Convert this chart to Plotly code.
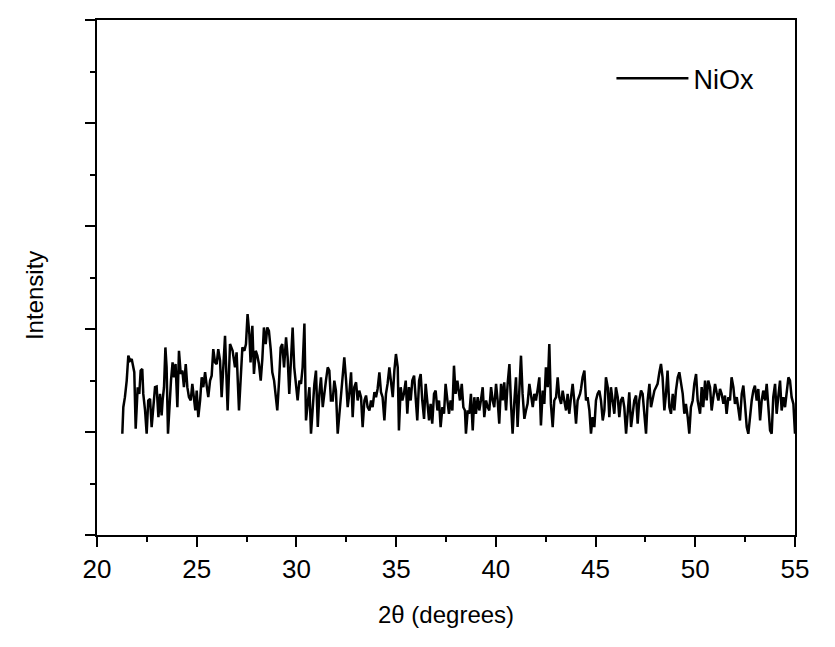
import plotly.graph_objects as go

two_theta = [
    21.27, 21.32, 21.40, 21.49, 21.57, 21.66, 21.74, 21.82, 21.87, 21.94, 22.04, 22.12, 22.19, 22.27, 22.32,
    22.41, 22.49, 22.57, 22.66, 22.74, 22.82, 22.91, 22.99, 23.08, 23.16, 23.24, 23.29, 23.36, 23.43, 23.49,
    23.56, 23.63, 23.71, 23.79, 23.86, 23.94, 24.03, 24.11, 24.20, 24.28, 24.36, 24.45, 24.53, 24.61, 24.70,
    24.78, 24.86, 24.93, 25.00, 25.08, 25.17, 25.25, 25.33, 25.42, 25.50, 25.58, 25.67, 25.75, 25.83, 25.92,
    26.00, 26.08, 26.17,
    26.25, 26.42, 26.55, 26.67, 26.80, 26.92, 27.00, 27.12, 27.22, 27.29, 27.39, 27.47, 27.55, 27.64, 27.70,
    27.79, 27.87, 27.96, 28.04, 28.12, 28.21, 28.29, 28.37, 28.46, 28.54, 28.62, 28.71, 28.79, 28.88, 28.96,
    29.04, 29.13, 29.21, 29.29, 29.38, 29.48, 29.56, 29.64, 29.73, 29.81, 29.89, 29.98, 30.06, 30.15, 30.23,
    30.31, 30.40, 30.48, 30.56, 30.65, 30.73, 30.81, 30.90, 30.98, 31.07, 31.15, 31.23, 31.32, 31.40, 31.48,
    31.57, 31.65, 31.73, 31.82, 31.90, 31.98, 32.07, 32.18,
    32.30, 32.40, 32.49, 32.57, 32.65, 32.74, 32.82, 32.90, 32.99, 33.07, 33.15, 33.24, 33.32, 33.41, 33.49,
    33.57, 33.66, 33.74, 33.82, 33.91, 33.99, 34.07, 34.16, 34.24, 34.32, 34.41, 34.49, 34.57, 34.66, 34.74,
    34.83, 34.91, 34.99, 35.08, 35.14, 35.23, 35.31, 35.39, 35.48, 35.56, 35.64, 35.73, 35.81, 35.90, 35.98,
    36.06, 36.15, 36.23, 36.31, 36.40, 36.48, 36.56, 36.65, 36.73, 36.81, 36.90, 36.98, 37.07, 37.15, 37.23,
    37.32, 37.40, 37.48, 37.57, 37.65, 37.73, 37.82, 37.90, 37.98, 38.07, 38.20,
    38.29, 38.37, 38.45, 38.50, 38.59, 38.67, 38.75, 38.84, 38.92, 39.00, 39.09, 39.17, 39.25, 39.34, 39.42,
    39.51, 39.59, 39.67, 39.76, 39.84, 39.92, 40.01, 40.09, 40.17, 40.26, 40.34, 40.42, 40.51, 40.59, 40.68,
    40.76, 40.84, 40.93, 41.01, 41.09, 41.18, 41.26, 41.34, 41.43, 41.51, 41.59, 41.68, 41.76, 41.85, 41.93,
    42.01, 42.10, 42.18, 42.26, 42.35, 42.43, 42.51, 42.60, 42.68, 42.76, 42.85, 42.93, 43.02, 43.10, 43.18,
    43.27, 43.35, 43.43, 43.52, 43.60, 43.68, 43.77, 43.85, 43.93, 44.02, 44.10, 44.22,
    44.27, 44.35, 44.44, 44.52, 44.60, 44.69, 44.77, 44.85, 44.94, 45.02, 45.10, 45.19, 45.27, 45.36, 45.44,
    45.52, 45.61, 45.69, 45.77, 45.86, 45.94, 46.02, 46.11, 46.19, 46.27, 46.36, 46.44, 46.53, 46.61, 46.69,
    46.78, 46.86, 46.94, 47.03, 47.11, 47.19, 47.28, 47.36, 47.44, 47.53, 47.61, 47.70, 47.78, 47.86, 47.95,
    48.03, 48.11, 48.20, 48.28, 48.36, 48.45, 48.53, 48.61, 48.70, 48.78, 48.87, 48.95, 49.03, 49.12, 49.20,
    49.28, 49.37, 49.45, 49.53, 49.62, 49.70, 49.78, 49.87, 49.95, 50.04, 50.12, 50.24,
    50.32, 50.40, 50.49, 50.57, 50.65, 50.74, 50.82, 50.91, 50.99, 51.07, 51.16, 51.24, 51.32, 51.41, 51.49,
    51.57, 51.66, 51.74, 51.82, 51.91, 51.99, 52.08, 52.16, 52.24, 52.33, 52.41, 52.49, 52.58, 52.66, 52.74,
    52.83, 52.91, 52.99, 53.08, 53.16, 53.25, 53.33, 53.41, 53.50, 53.58, 53.66, 53.75, 53.83, 53.91, 54.00,
    54.08, 54.16, 54.25, 54.33, 54.42, 54.50, 54.58, 54.67, 54.75, 54.83, 54.92, 55.00,
]

intensity = [
    0.983, 1.241, 1.338, 1.499, 1.741, 1.692, 1.708, 1.628, 1.580, 1.031, 1.435, 1.370, 1.596, 1.612, 1.370,
    1.209, 0.983, 1.306, 1.322, 1.048, 1.209, 1.435, 1.441, 1.144, 1.370, 1.161, 1.306, 1.435, 1.821, 1.628,
    0.983, 1.273, 1.499, 1.676, 1.531, 1.660, 1.241, 1.789, 1.563, 1.596, 1.435, 1.660, 1.435, 1.338, 1.306,
    1.467, 1.306, 1.209, 1.402, 1.144, 1.306, 1.531, 1.435, 1.580, 1.451, 1.338, 1.499, 1.547, 1.805, 1.676,
    1.660, 1.805, 1.692,
    1.338, 1.934, 1.209, 1.854, 1.789, 1.628, 1.773, 1.209, 1.628, 1.821, 1.789, 1.854, 2.144, 1.950, 1.676,
    2.031, 1.563, 1.789, 1.741, 1.660, 1.499, 1.708, 2.015, 1.854, 2.015, 1.983, 1.805, 1.580, 1.499, 1.370,
    1.209, 1.499, 1.821, 1.854, 1.628, 1.918, 1.725, 1.370, 1.692, 2.015, 1.628, 1.467, 1.306, 1.499, 1.467,
    1.628, 2.054, 1.112, 1.306, 1.435, 0.983, 1.241, 1.467, 1.596, 1.048, 1.370, 1.531, 1.241, 1.402, 1.499,
    1.628, 1.596, 1.306, 1.306, 1.499, 1.402, 0.983, 1.241,
    1.467, 1.725, 1.499, 1.241, 1.370, 1.580, 1.144, 1.435, 1.483, 1.306, 1.402, 1.338, 1.048, 1.306, 1.354,
    1.241, 1.209, 1.306, 1.241, 1.386, 1.338, 1.418, 1.580, 1.386, 1.338, 1.112, 1.370, 1.467, 1.628, 1.499,
    1.338, 1.596, 1.757, 1.628, 1.015, 1.435, 1.306, 1.370, 1.499, 1.177, 1.435, 1.306, 1.499, 1.547, 1.273,
    1.112, 1.499, 1.563, 1.306, 1.128, 1.467, 1.273, 1.112, 1.273, 1.080, 1.370, 1.402, 1.209, 1.306, 1.048,
    1.241, 1.177, 1.467, 1.306, 1.177, 1.306, 1.209, 1.644, 1.370, 1.499, 1.306,
    1.467, 1.241, 1.209, 0.983, 1.209, 1.177, 1.370, 1.015, 1.338, 1.177, 1.338, 1.209, 1.306, 1.435, 1.144,
    1.306, 1.241, 1.209, 1.435, 1.306, 1.241, 1.467, 1.306, 1.080, 1.467, 1.306, 1.483, 1.209, 1.467, 1.660,
    1.273, 0.983, 1.306, 1.531, 1.048, 1.435, 1.741, 1.370, 1.128, 1.209, 1.273, 1.467, 1.338, 1.241, 1.370,
    1.306, 1.418, 1.531, 1.064, 1.402, 1.273, 1.628, 1.435, 1.854, 1.273, 1.048, 1.306, 1.338, 1.531, 1.338,
    1.273, 1.402, 1.306, 1.209, 1.370, 1.177, 1.338, 1.467, 1.306, 1.080, 1.306, 1.370,
    1.418, 1.531, 1.596, 1.306, 1.338, 1.209, 0.983, 1.144, 1.048, 1.306, 1.370, 1.402, 1.306, 1.112, 1.209,
    1.531, 1.435, 1.144, 1.435, 1.306, 1.177, 1.435, 1.338, 1.144, 1.306, 1.338, 1.241, 0.983, 1.209, 1.386,
    1.048, 1.209, 1.306, 1.354, 1.080, 1.306, 1.402, 1.370, 1.177, 0.983, 1.306, 1.467, 1.241, 1.306, 1.402,
    1.435, 1.467, 1.580, 1.660, 1.531, 1.209, 1.370, 1.596, 1.241, 1.177, 1.370, 1.209, 1.402, 1.531, 1.580,
    1.467, 1.370, 1.177, 1.273, 1.144, 0.983, 1.241, 1.306, 1.467, 1.563, 1.306, 1.177,
    1.435, 1.241, 1.499, 1.306, 1.499, 1.435, 1.209, 1.338, 1.467, 1.386, 1.306, 1.418, 1.370, 1.273, 1.354,
    1.177, 1.338, 1.306, 1.531, 1.435, 1.273, 1.338, 1.209, 1.112, 1.370, 1.451, 1.273, 1.048, 0.983, 1.144,
    1.306, 1.402, 1.451, 1.306, 1.418, 1.112, 1.306, 1.402, 1.306, 1.467, 1.209, 1.015, 0.983, 1.338, 1.467,
    1.177, 1.338, 1.499, 1.209, 1.338, 1.241, 1.402, 1.531, 1.499, 1.338, 1.273, 0.983,
]

x_ticks = [20, 25, 30, 35, 40, 45, 50, 55]
x_title = "2θ (degrees)"
y_title = "Intensity"
series_name = "NiOx"

fig = go.Figure()
fig.add_trace(go.Scatter(
    x=two_theta, y=intensity, mode="lines", name=series_name,
    line=dict(color="black", width=2.5),
))

axis_common = dict(
    showline=True, linecolor="black", linewidth=2, mirror=True,
    ticks="outside", ticklen=10, tickwidth=2, tickcolor="black",
    showgrid=False, zeroline=False,
)

fig.update_xaxes(
    range=[20, 55], tickvals=x_ticks, ticktext=[str(v) for v in x_ticks],
    tickfont=dict(family="Arial, Liberation Sans", size=26, color="black"),
    minor=dict(dtick=2.5, tick0=20, ticks="outside", ticklen=5, tickwidth=2, tickcolor="black"),
    ticklabelstandoff=0,
    **axis_common,
)
fig.update_yaxes(
    range=[0, 5], dtick=1, tick0=0, showticklabels=False,
    minor=dict(dtick=0.5, tick0=0, ticks="outside", ticklen=5, tickwidth=2, tickcolor="black"),
    **axis_common,
)

fig.add_annotation(
    text=x_title, xref="paper", yref="paper", x=0.5, y=-0.1547,
    xanchor="center", yanchor="middle", showarrow=False,
    font=dict(family="Arial, Liberation Sans", size=24, color="black"),
)
fig.add_annotation(
    text=y_title, xref="paper", yref="paper", x=-0.0895, y=0.465,
    xanchor="center", yanchor="middle", textangle=-90, showarrow=False,
    font=dict(family="Arial, Liberation Sans", size=24, color="black"),
)

fig.update_layout(
    width=835, height=647,
    margin=dict(l=89, r=48, t=10, b=120),
    plot_bgcolor="white", paper_bgcolor="white",
    showlegend=True,
    legend=dict(
        x=0.737, y=0.886, xanchor="left", yanchor="middle",
        bgcolor="rgba(0,0,0,0)", borderwidth=0, itemwidth=72,
        font=dict(family="Arial, Liberation Sans", size=27, color="black"),
    ),
)

fig.write_html("out.html")
